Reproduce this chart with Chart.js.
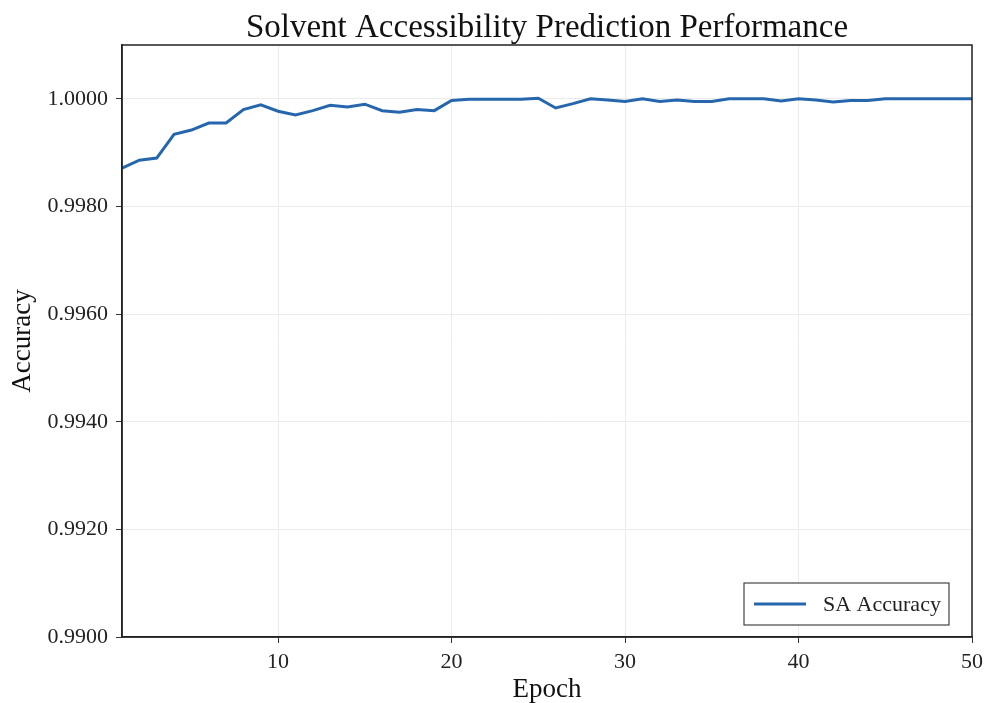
<!DOCTYPE html>
<html>
<head>
<meta charset="utf-8">
<script src="https://cdn.jsdelivr.net/npm/chart.js@4/dist/chart.umd.min.js"></script>
<style>
  body { margin: 0; background: #fff; }
  #wrap { width: 987px; height: 703px; }
</style>
</head>
<body>
<div id="wrap"><canvas id="myChart" width="987" height="703"></canvas></div>
<script>
const epochs = [];
for (let e = 1; e <= 50; e++) epochs.push(e);

const saAccuracy = [
  0.99871, 0.99886, 0.99890, 0.99934, 0.99942, 0.99955, 0.99955, 0.99980, 0.99989, 0.99977,
  0.99970, 0.99978, 0.99988, 0.99985, 0.99990, 0.99978, 0.99975, 0.99980, 0.99978, 0.99997,
  0.99999, 0.99999, 0.99999, 0.99999, 1.00001, 0.99983, 0.99991, 1.00000, 0.99998, 0.99995,
  1.00000, 0.99995, 0.99998, 0.99995, 0.99995, 1.00000, 1.00000, 1.00000, 0.99996, 1.00000,
  0.99998, 0.99994, 0.99997, 0.99997, 1.00000, 1.00000, 1.00000, 1.00000, 1.00000, 1.00000,
];

const xTicks = [10, 20, 30, 40, 50];
const yTicks = [0.990, 0.992, 0.994, 0.996, 0.998, 1.000];

const chartTitle = "Solvent Accessibility Prediction Performance";
const serif = "'Liberation Serif', 'DejaVu Serif', serif";
const lineColor = "#2566ad";

// title centred over the plot, black box round it, legend in the lower right corner
const framePlugin = {
  id: "frame",
  afterDraw(chart) {
    const { ctx, chartArea: a } = chart;
    ctx.save();
    ctx.fillStyle = "#111";
    ctx.font = "33px " + serif;
    ctx.textAlign = "center";
    ctx.textBaseline = "middle";
    ctx.fillText(chartTitle, (a.left + a.right) / 2, 28);

    ctx.strokeStyle = "#222";
    ctx.lineWidth = 1.5;
    ctx.strokeRect(a.left, a.top, a.right - a.left, a.bottom - a.top);

    const w = 205, h = 42;
    const x = a.right - 228, y = a.bottom - 54;
    ctx.fillStyle = "#fff";
    ctx.fillRect(x, y, w, h);
    ctx.strokeStyle = "#444";
    ctx.lineWidth = 1.2;
    ctx.strokeRect(x, y, w, h);
    ctx.strokeStyle = lineColor;
    ctx.lineWidth = 3;
    ctx.beginPath();
    ctx.moveTo(x + 10, y + h / 2);
    ctx.lineTo(x + 62, y + h / 2);
    ctx.stroke();
    ctx.fillStyle = "#222";
    ctx.font = "22px " + serif;
    ctx.textAlign = "left";
    ctx.fillText(chart.data.datasets[0].label, x + 79, y + h / 2 + 1);
    ctx.restore();
  },
};

const ctx = document.getElementById("myChart");
new Chart(ctx, {
  type: "line",
  data: {
    labels: epochs,
    datasets: [
      {
        label: "SA Accuracy",
        data: epochs.map((e, i) => ({ x: e, y: saAccuracy[i] })),
        borderColor: lineColor,
        borderWidth: 3,
        pointRadius: 0,
        tension: 0,
        fill: false,
      },
    ],
  },
  options: {
    responsive: false,
    animation: false,
    layout: { padding: { left: 0, right: 15, top: 45, bottom: 0 } },
    plugins: {
      legend: { display: false },
      tooltip: { enabled: false },
      title: { display: false },
    },
    scales: {
      x: {
        type: "linear",
        min: 1,
        max: 50,
        afterBuildTicks: (s) => { s.ticks = xTicks.map((v) => ({ value: v })); },
        afterFit: (s) => { s.height = 66; s.paddingRight = 0; },
        ticks: {
          color: "#222",
          font: { family: serif, size: 22 },
          padding: 6,
          maxRotation: 0,
        },
        grid: { color: "#ebebeb", tickColor: "#333", tickLength: 6, lineWidth: 1 },
        border: { color: "#222", width: 1.5 },
        title: {
          display: true,
          text: "Epoch",
          color: "#111",
          font: { family: serif, size: 27 },
          padding: { top: 0, bottom: -3 },
        },
      },
      y: {
        min: 0.99,
        max: 1.001,
        afterBuildTicks: (s) => { s.ticks = yTicks.map((v) => ({ value: v })); },
        afterFit: (s) => { s.width = 122; },
        ticks: {
          color: "#222",
          font: { family: serif, size: 22 },
          padding: 8,
          callback: (v) => Number(v).toFixed(4),
        },
        grid: { color: "#ebebeb", tickColor: "#333", tickLength: 6, lineWidth: 1 },
        border: { color: "#222", width: 1.5 },
        title: {
          display: true,
          text: "Accuracy",
          color: "#111",
          font: { family: serif, size: 27 },
          padding: { top: 7, bottom: 0 },
        },
      },
    },
  },
  plugins: [framePlugin],
});
</script>
</body>
</html>
